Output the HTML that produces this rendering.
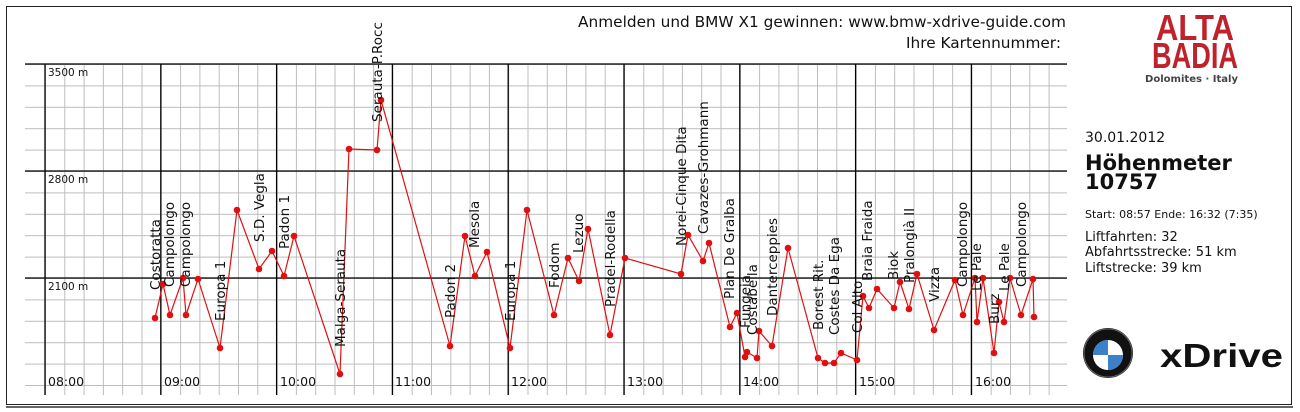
<!DOCTYPE html>
<html><head><meta charset="utf-8"><style>
html,body{margin:0;padding:0;background:#fff;}
svg{display:block;}
text{font-family:"DejaVu Sans","Liberation Sans",sans-serif;fill:#111;}
</style></head><body>
<svg width="1300" height="412" viewBox="0 0 1300 412" xmlns="http://www.w3.org/2000/svg">
<defs>
<pattern id="ph" x="0" y="64" width="20" height="21.4" patternUnits="userSpaceOnUse"><line x1="0" y1="0.5" x2="20" y2="0.5" stroke="#bdbdbd" stroke-width="1"/></pattern>
<pattern id="pv" x="45" y="0" width="19.3" height="20" patternUnits="userSpaceOnUse"><line x1="0.5" y1="0" x2="0.5" y2="20" stroke="#bdbdbd" stroke-width="1"/></pattern>
</defs>
<rect x="0" y="0" width="1300" height="412" fill="#fff"/>
<rect x="6.5" y="6.5" width="1285" height="398" fill="none" stroke="#222" stroke-width="1"/>
<line x1="6" y1="407" x2="1293" y2="407" stroke="#666" stroke-width="2"/>
<rect x="25" y="63.5" width="1042" height="332" fill="url(#ph)"/>
<rect x="44.5" y="64" width="1023" height="331" fill="url(#pv)"/>
<g stroke="#000" stroke-width="1.3">
<line x1="25" y1="64" x2="1067" y2="64"/><line x1="25" y1="171" x2="1067" y2="171"/><line x1="25" y1="278" x2="1067" y2="278"/>
<line x1="45" y1="64" x2="45" y2="395"/><line x1="160.8" y1="64" x2="160.8" y2="395"/><line x1="276.6" y1="64" x2="276.6" y2="395"/><line x1="392.4" y1="64" x2="392.4" y2="395"/><line x1="508.2" y1="64" x2="508.2" y2="395"/><line x1="624" y1="64" x2="624" y2="395"/><line x1="739.8" y1="64" x2="739.8" y2="395"/><line x1="855.6" y1="64" x2="855.6" y2="395"/><line x1="971.4" y1="64" x2="971.4" y2="395"/>
</g>
<g font-size="10.5"><text x="48" y="76">3500 m</text><text x="48" y="183">2800 m</text><text x="48" y="290">2100 m</text></g>
<g font-size="12.5"><text x="48" y="386">08:00</text><text x="164" y="386">09:00</text><text x="280" y="386">10:00</text><text x="395" y="386">11:00</text><text x="511" y="386">12:00</text><text x="627" y="386">13:00</text><text x="743" y="386">14:00</text><text x="859" y="386">15:00</text><text x="975" y="386">16:00</text></g>
<text x="578" y="27" font-size="15" textLength="488" lengthAdjust="spacingAndGlyphs">Anmelden und BMW X1 gewinnen: www.bmw-xdrive-guide.com</text>
<text x="906" y="48" font-size="15" textLength="155" lengthAdjust="spacingAndGlyphs">Ihre Kartennummer:</text>
<polyline fill="none" stroke="#e01010" stroke-width="1.2" points="155,318 163,284 170,315 183,278 186,315 198,279 220,348 237,210 259,269 272,251 284,276 294,236 340,374 349,149 377,150 381,100 450,346 465,236 475,276 487,252 510,348 527,210 554,315 568,258 579,281 588,229 610,335 625,258 681,274 688,235 703,261 709,243 730,327 737,313 745,357 747,352 757,358 759,331 772,346 788,248 818,358 825,363 834,363 841,353 857,360 863,296 869,308 877,289 894,308 900,282 909,309 917,274 934,330 955,280 963,315 975,278 977,322 983,278 994,353 999,302 1004,322 1010,278 1021,315 1033,279 1034,317"/>
<g fill="#e01010">
<circle cx="155" cy="318" r="3.3"/><circle cx="163" cy="284" r="3.3"/><circle cx="170" cy="315" r="3.3"/><circle cx="183" cy="278" r="3.3"/><circle cx="186" cy="315" r="3.3"/><circle cx="198" cy="279" r="3.3"/><circle cx="220" cy="348" r="3.3"/><circle cx="237" cy="210" r="3.3"/><circle cx="259" cy="269" r="3.3"/><circle cx="272" cy="251" r="3.3"/><circle cx="284" cy="276" r="3.3"/><circle cx="294" cy="236" r="3.3"/><circle cx="340" cy="374" r="3.3"/><circle cx="349" cy="149" r="3.3"/><circle cx="377" cy="150" r="3.3"/><circle cx="381" cy="100" r="3.3"/><circle cx="450" cy="346" r="3.3"/><circle cx="465" cy="236" r="3.3"/><circle cx="475" cy="276" r="3.3"/><circle cx="487" cy="252" r="3.3"/><circle cx="510" cy="348" r="3.3"/><circle cx="527" cy="210" r="3.3"/><circle cx="554" cy="315" r="3.3"/><circle cx="568" cy="258" r="3.3"/><circle cx="579" cy="281" r="3.3"/><circle cx="588" cy="229" r="3.3"/><circle cx="610" cy="335" r="3.3"/><circle cx="625" cy="258" r="3.3"/><circle cx="681" cy="274" r="3.3"/><circle cx="688" cy="235" r="3.3"/><circle cx="703" cy="261" r="3.3"/><circle cx="709" cy="243" r="3.3"/><circle cx="730" cy="327" r="3.3"/><circle cx="737" cy="313" r="3.3"/><circle cx="745" cy="357" r="3.3"/><circle cx="747" cy="352" r="3.3"/><circle cx="757" cy="358" r="3.3"/><circle cx="759" cy="331" r="3.3"/><circle cx="772" cy="346" r="3.3"/><circle cx="788" cy="248" r="3.3"/><circle cx="818" cy="358" r="3.3"/><circle cx="825" cy="363" r="3.3"/><circle cx="834" cy="363" r="3.3"/><circle cx="841" cy="353" r="3.3"/><circle cx="857" cy="360" r="3.3"/><circle cx="863" cy="296" r="3.3"/><circle cx="869" cy="308" r="3.3"/><circle cx="877" cy="289" r="3.3"/><circle cx="894" cy="308" r="3.3"/><circle cx="900" cy="282" r="3.3"/><circle cx="909" cy="309" r="3.3"/><circle cx="917" cy="274" r="3.3"/><circle cx="934" cy="330" r="3.3"/><circle cx="955" cy="280" r="3.3"/><circle cx="963" cy="315" r="3.3"/><circle cx="975" cy="278" r="3.3"/><circle cx="977" cy="322" r="3.3"/><circle cx="983" cy="278" r="3.3"/><circle cx="994" cy="353" r="3.3"/><circle cx="999" cy="302" r="3.3"/><circle cx="1004" cy="322" r="3.3"/><circle cx="1010" cy="278" r="3.3"/><circle cx="1021" cy="315" r="3.3"/><circle cx="1033" cy="279" r="3.3"/><circle cx="1034" cy="317" r="3.3"/>
</g>
<g font-size="13.5">
<text transform="translate(160,290) rotate(-90)">Costoratta</text>
<text transform="translate(174,287) rotate(-90)">Campolongo</text>
<text transform="translate(190,287) rotate(-90)">Campolongo</text>
<text transform="translate(225,321) rotate(-90)">Europa 1</text>
<text transform="translate(264,242) rotate(-90)">S.D. Vegla</text>
<text transform="translate(289,249) rotate(-90)">Padon 1</text>
<text transform="translate(345,347) rotate(-90)">Malga-Serauta</text>
<text transform="translate(382,122) rotate(-90)">Serauta-P.Rocc</text>
<text transform="translate(455,318) rotate(-90)">Padon 2</text>
<text transform="translate(479,248) rotate(-90)">Mesola</text>
<text transform="translate(515,321) rotate(-90)">Europa 1</text>
<text transform="translate(559,288) rotate(-90)">Fodom</text>
<text transform="translate(583,253) rotate(-90)">Lezuo</text>
<text transform="translate(615,307) rotate(-90)">Pradel-Rodella</text>
<text transform="translate(686,246) rotate(-90)">Norei-Cinque Dita</text>
<text transform="translate(708,234) rotate(-90)">Cavazes-Grohmann</text>
<text transform="translate(734,299) rotate(-90)">Plan De Gralba</text>
<text transform="translate(750,328) rotate(-90)">Fungeia</text>
<text transform="translate(757,335) rotate(-90)">Costabella</text>
<text transform="translate(777,316) rotate(-90)">Danterceppies</text>
<text transform="translate(823,330) rotate(-90)">Borest Rit.</text>
<text transform="translate(839,335) rotate(-90)">Costes Da Ega</text>
<text transform="translate(862,333) rotate(-90)">Col Alto</text>
<text transform="translate(872,281) rotate(-90)">Braia Fraida</text>
<text transform="translate(898,280) rotate(-90)">Biok</text>
<text transform="translate(914,283) rotate(-90)">Pralongià II</text>
<text transform="translate(939,302) rotate(-90)">Vizza</text>
<text transform="translate(967,287) rotate(-90)">Campolongo</text>
<text transform="translate(981,291) rotate(-90)">Le Pale</text>
<text transform="translate(999,324) rotate(-90)">Burz</text>
<text transform="translate(1009,291) rotate(-90)">Le Pale</text>
<text transform="translate(1026,287) rotate(-90)">Campolongo</text>
</g>
<text transform="translate(1156,40) scale(1,1.25)" font-size="29" font-weight="bold" textLength="78" lengthAdjust="spacingAndGlyphs" style="fill:#c0222c;font-family:'Liberation Sans',sans-serif;font-weight:900">ALTA</text>
<text transform="translate(1152,68) scale(1,1.25)" font-size="29" font-weight="bold" textLength="86" lengthAdjust="spacingAndGlyphs" style="fill:#c0222c;font-family:'Liberation Sans',sans-serif;font-weight:900">BADIA</text>
<text x="1145" y="82" font-size="9.5" font-weight="bold" style="fill:#444" textLength="93" lengthAdjust="spacingAndGlyphs">Dolomites · Italy</text>
<text x="1085" y="142" font-size="14">30.01.2012</text>
<text x="1085" y="170" font-size="21" font-weight="bold">Höhenmeter</text>
<text x="1085" y="189" font-size="21" font-weight="bold">10757</text>
<text x="1085" y="218" font-size="11">Start: 08:57 Ende: 16:32 (7:35)</text>
<text x="1085" y="241" font-size="13">Liftfahrten: 32</text>
<text x="1085" y="256" font-size="13">Abfahrtsstrecke: 51 km</text>
<text x="1085" y="272" font-size="13">Liftstrecke: 39 km</text>
<circle cx="1108" cy="353" r="25" fill="#111"/>
<circle cx="1108" cy="353" r="24" fill="none" stroke="#666" stroke-width="1"/>
<circle cx="1108" cy="355" r="15" fill="#fff"/>
<path d="M1108 355 L1108 340 A15 15 0 0 0 1093 355 Z" fill="#3b80c8"/>
<path d="M1108 355 L1108 370 A15 15 0 0 0 1123 355 Z" fill="#3b80c8"/>
<text x="1160" y="367" font-size="33" font-weight="bold" style="font-family:'Liberation Sans',sans-serif" textLength="123" lengthAdjust="spacingAndGlyphs">xDrive</text>
</svg>
</body></html>
